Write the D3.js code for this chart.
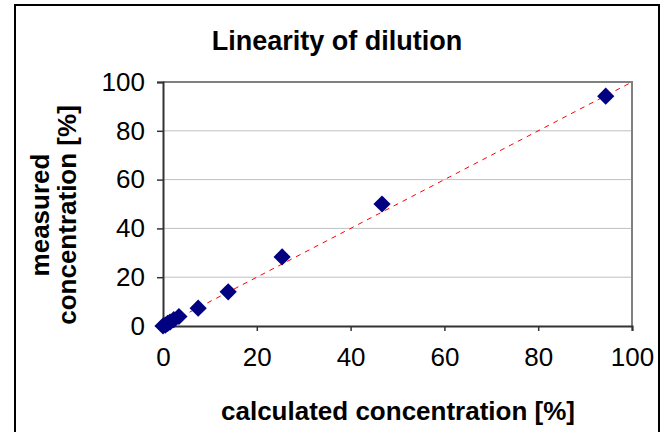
<!DOCTYPE html>
<html>
<head>
<meta charset="utf-8">
<script src="https://cdn.jsdelivr.net/npm/d3@7"></script>
<style>
  body { margin: 0; background: #fff; }
  svg { display: block; font-family: "Liberation Sans", Arial, sans-serif; }
</style>
</head>
<body>
<svg id="chart" width="666" height="432"></svg>
<script>
// data
const calculated = [0, 0.5, 1, 1.5, 2.3, 3.4, 7.5, 13.9, 25.4, 46.7, 94.4];
const measured   = [0, 0.4, 1.1, 1.6, 2.6, 3.9, 7.3, 14.0, 28.3, 50.0, 94.2];
const ticks = [0, 20, 40, 60, 80, 100];
const fitLine = [[0, 0], [100, 100]];

const svg = d3.select("#chart");
const margin = { top: 82, right: 34, bottom: 106, left: 163 };
const width = 666, height = 432;

// outer frame
svg.append("rect")
  .attr("x", 15).attr("y", 5)
  .attr("width", 644).attr("height", 440)
  .attr("fill", "none")
  .attr("stroke", "#000")
  .attr("stroke-width", 2);

const xScale = d3.scaleLinear().domain([0, 100]).range([margin.left, width - margin.right]);
const yScale = d3.scaleLinear().domain([0, 100]).range([height - margin.bottom, margin.top]);

// gridlines
svg.append("g")
  .selectAll("line")
  .data(ticks.filter((d) => d > 0 && d < 100))
  .join("line")
  .attr("x1", xScale(0)).attr("x2", xScale(100))
  .attr("y1", (d) => yScale(d)).attr("y2", (d) => yScale(d))
  .attr("stroke", "#c0c0c0")
  .attr("stroke-width", 1);

// top and right border of plot area
svg.append("path")
  .attr("d", `M${xScale(0)},${yScale(100)}H${xScale(100)}V${yScale(0)}`)
  .attr("fill", "none")
  .attr("stroke", "#808080")
  .attr("stroke-width", 2);

// axes
const xAxis = d3.axisBottom(xScale).tickValues(ticks).tickSize(5).tickPadding(17);
const yAxis = d3.axisLeft(yScale).tickValues(ticks).tickSize(6).tickPadding(12);

const gx = svg.append("g")
  .attr("transform", `translate(0,${yScale(0)})`)
  .call(xAxis);
const gy = svg.append("g")
  .attr("transform", `translate(${xScale(0)},0)`)
  .call(yAxis);

[gx, gy].forEach((g) => {
  g.select(".domain").attr("stroke", "#333").attr("stroke-width", 2);
  g.selectAll(".tick line").attr("stroke", "#333").attr("stroke-width", 1.5);
  g.selectAll(".tick text")
    .attr("font-size", 26)
    .attr("fill", "#000")
    .attr("font-family", "Liberation Sans, Arial, sans-serif");
});

// dashed identity line
svg.append("path")
  .datum(fitLine)
  .attr("d", d3.line().x((d) => xScale(d[0])).y((d) => yScale(d[1])))
  .attr("fill", "none")
  .attr("stroke", "#ff0000")
  .attr("stroke-width", 1)
  .attr("stroke-dasharray", "5,5");

// points (diamonds)
const diamond = d3.symbol().type(d3.symbolSquare).size(148);
svg.append("g")
  .selectAll("path")
  .data(calculated.map((c, i) => ({ x: c, y: measured[i] })))
  .join("path")
  .attr("d", diamond)
  .attr("transform", (d) => `translate(${xScale(d.x)},${yScale(d.y)}) rotate(45)`)
  .attr("fill", "#000080");

// title
svg.append("text")
  .attr("x", 337).attr("y", 50)
  .attr("text-anchor", "middle")
  .attr("font-size", 27)
  .attr("font-weight", "bold")
  .text("Linearity of dilution");

// x label
svg.append("text")
  .attr("x", 398).attr("y", 420)
  .attr("text-anchor", "middle")
  .attr("font-size", 26)
  .attr("font-weight", "bold")
  .text("calculated concentration [%]");

// y label, two lines
const yl = svg.append("text")
  .attr("transform", "translate(49,215) rotate(-90)")
  .attr("text-anchor", "middle")
  .attr("font-size", 26)
  .attr("font-weight", "bold");
yl.append("tspan").attr("x", 0).attr("dy", 0).text("measured");
yl.append("tspan").attr("x", 0).attr("dy", 27).text("concentration [%]");
</script>
</body>
</html>
